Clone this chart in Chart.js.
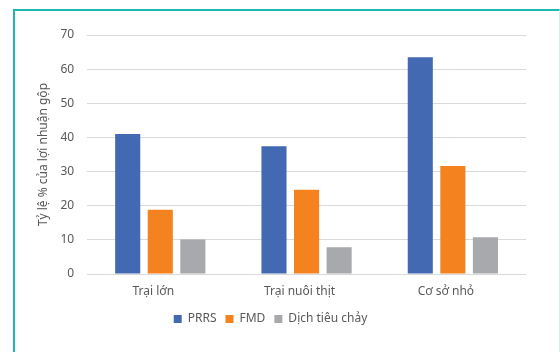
<!DOCTYPE html>
<html>
<head>
<meta charset="utf-8">
<script src="https://cdn.jsdelivr.net/npm/chart.js@4"></script>
<style>
  html, body { margin: 0; padding: 0; background: #ffffff; }
  body { width: 560px; height: 352px; position: relative; overflow: hidden; }
  #frame {
    position: absolute;
    left: 13px;
    top: 9px;
    width: 544px;
    height: 343px;
    border-left: 2px solid #1fb8b1;
    border-top: 2px solid #1fb8b1;
    border-right: 1px solid #d3efed;
  }
  #chart { display: block; }
</style>
</head>
<body>
<div id="frame">
  <canvas id="chart" width="544" height="341"></canvas>
</div>
<script>
// ── Data ────────────────────────────────────────────────────

const categories = ['Trại lớn', 'Trại nuôi thịt', 'Cơ sở nhỏ'];
const seriesNames = ['PRRS', 'FMD', 'Dịch tiêu chảy'];
const prrsValues = [41, 37.4, 63.5];
const fmdValues = [18.8, 24.7, 31.6];
const diarrheaValues = [10.1, 7.8, 10.8];
const yTicks = [0, 10, 20, 30, 40, 50, 60, 70];
const yTitle = 'Tỷ lệ % của lợi nhuận gộp';

// ── Style ───────────────────────────────────────────────────

const COLORS = ['#4369b3', '#f3821f', '#a8a9ac'];
const FONT = '"Noto Sans", "Open Sans", sans-serif';
const TEXT = '#595959';
const GRID = '#d9d9d9';

Chart.defaults.font.family = FONT;
Chart.defaults.font.size = 12;
Chart.defaults.color = TEXT;

// ── Chart ───────────────────────────────────────────────────

const datasets = [prrsValues, fmdValues, diarrheaValues].map((values, i) => ({
    label: seriesNames[i],
    data: values,
    backgroundColor: COLORS[i],
    borderWidth: 0,
    categoryPercentage: 0.668,
    barPercentage: 0.77,
}));

new Chart(document.getElementById('chart'), {
    type: 'bar',
    data: { labels: categories, datasets },
    options: {
        responsive: false,
        animation: false,
        layout: { padding: { left: 0, right: 33, top: 24, bottom: 17 } },
        plugins: {
            tooltip: { enabled: false },
            legend: {
                position: 'bottom',
                labels: {
                    boxWidth: 8,
                    boxHeight: 8,
                    padding: 9,
                    color: TEXT,
                    font: { size: 12 },
                },
            },
        },
        scales: {
            x: {
                grid: { display: false, drawTicks: false },
                border: { display: false },
                ticks: { padding: 10, labelOffset: -7, color: TEXT, font: { size: 12 } },
                // fixed axis height so the plot reaches down to the reference baseline
                afterFit: (scale) => { scale.height = 30; },
            },
            y: {
                min: 0,
                max: 70,
                afterBuildTicks: (scale) => { scale.ticks = yTicks.map(v => ({ value: v })); },
                grid: { color: GRID, lineWidth: 1, drawTicks: false },
                border: { display: false },
                ticks: { padding: 13, color: TEXT, font: { size: 12 } },
                title: {
                    display: true,
                    text: yTitle,
                    color: TEXT,
                    font: { size: 12 },
                    padding: { top: 21, bottom: -3 },
                },
            },
        },
    },
});
</script>
</body>
</html>
